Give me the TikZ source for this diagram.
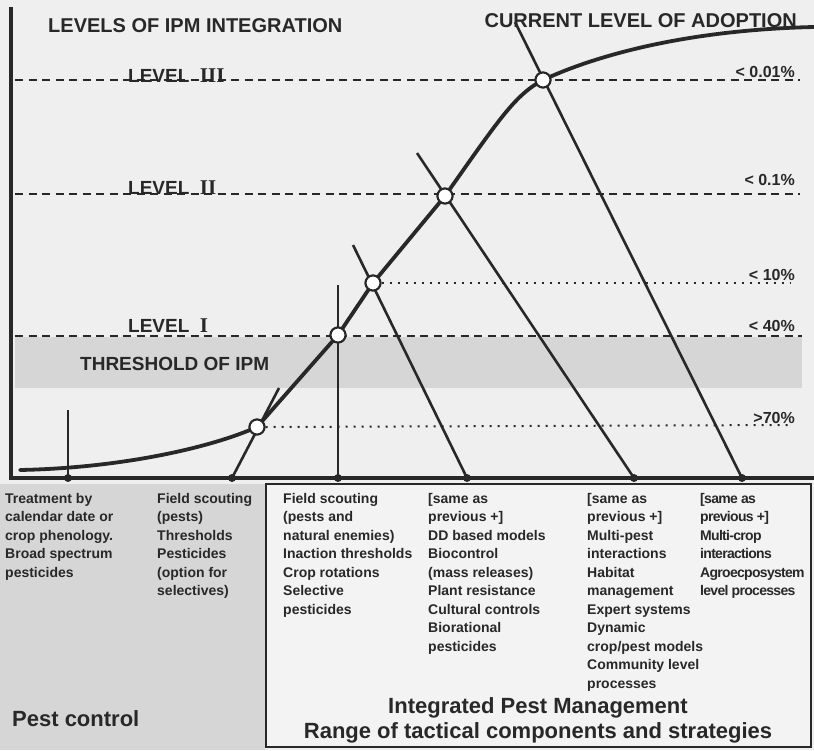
\documentclass[tikz,border=0pt]{standalone}
\usepackage{fontspec}
\setmainfont{Liberation Sans}
\newfontfamily\romannum{Liberation Serif}
\newfontfamily\tightsans[LetterSpace=-5]{Liberation Sans}
\usepackage{xcolor}
\definecolor{ipmbg}{HTML}{EFEFEF}
\definecolor{ipmink}{HTML}{282828}
\definecolor{ipmband}{HTML}{D6D6D6}
\definecolor{ipmbox}{HTML}{F3F3F3}
\usetikzlibrary{positioning,calc}

\begin{document}
\begin{tikzpicture}[x=1pt,y=-1pt,
  axisline/.style={line width=3.6pt,ipmink},
  levelline/.style={line width=2.2pt,ipmink,dash pattern=on 8pt off 5.5pt},
  adoptline/.style={line width=2pt,ipmink,dash pattern=on 2pt off 6pt},
  tactic/.style={line width=2.6pt,ipmink},
  joint/.style={circle,draw=ipmink,line width=2pt,fill=white,minimum size=15pt,inner sep=0pt},
  foot/.style={circle,fill=ipmink,minimum size=8pt,inner sep=0pt},
  headtxt/.style={font=\bfseries\fontsize{20}{24}\selectfont,text=ipmink,inner sep=0pt},
  lvltxt/.style={font=\bfseries\fontsize{19}{22}\selectfont,text=ipmink,inner sep=0pt,anchor=base west},
  pcttxt/.style={font=\bfseries\fontsize{16}{19}\selectfont,text=ipmink,inner sep=0pt,anchor=base east},
  coltxt/.style={font=\bfseries\fontsize{14}{18.5}\selectfont,text=ipmink,inner sep=0pt,anchor=north west,align=left},
  bigtxt/.style={font=\bfseries\fontsize{22}{25}\selectfont,text=ipmink,inner sep=0pt}]

\useasboundingbox (0,0) rectangle (814,750);
\fill[ipmbg] (0,0) rectangle (814,750);
\fill[ipmband] (0,484) rectangle (265,750);
\fill[ipmband] (15,337) rectangle (802,388);
\draw[line width=2.6pt,ipmink,fill=ipmbox] (266,484) rectangle (811,747);

\draw[axisline] (11,7) -- (11,478) -- (814,478);

\draw[levelline] (15,80) -- (800,80);
\draw[levelline] (15,194) -- (800,194);
\draw[levelline] (15,336) -- (802,336);

\node[headtxt,anchor=base west] (title) at (48,32) {LEVELS OF IPM INTEGRATION};
\node[headtxt,anchor=base east] (adopt) at (797,27) {CURRENT LEVEL OF ADOPTION};
\node[lvltxt] (lvl3) at (128,82) {LEVEL\ \ {\romannum\bfseries\fontsize{21}{24}\selectfont III}};
\node[lvltxt] (lvl2) at (128,194) {LEVEL\ \ {\romannum\bfseries\fontsize{21}{24}\selectfont II}};
\node[lvltxt] (lvl1) at (128,332) {LEVEL\ \ {\romannum\bfseries\fontsize{21}{24}\selectfont I}};
\node[lvltxt] (thresh) at (80,370) {THRESHOLD OF IPM};

\node[pcttxt] (p1) at (795,77) {< 0.01\%};
\node[pcttxt] (p2) at (795,185) {< 0.1\%};
\node[pcttxt] (p3) at (795,280) {< 10\%};
\node[pcttxt] (p4) at (795,331) {< 40\%};
\node[pcttxt] (p5) at (795,423) {>70\%};

\coordinate (t1) at (68,410);
\coordinate (t2) at (279,388);
\coordinate (t3) at (338,285);
\coordinate (t4) at (353,245);
\coordinate (t5) at (417,153);
\coordinate (t6) at (515,22);
\foreach \n/\x in {1/68,2/232,3/338,4/467,5/634,6/742}
  \node[foot] (b\n) at (\x,478) {};

\node[joint] (c1) at (257,427) {};
\node[joint] (c2) at (338,335) {};
\node[joint] (c3) at (373,283) {};
\node[joint] (c4) at (445,196) {};
\node[joint] (c5) at (543,80) {};

\draw[adoptline] (c3.east) -- (790,283);
\draw[adoptline] (c1.east) -- (790,425);

\draw[line width=3.8pt,ipmink,line cap=round,line join=round]
  (20,470) .. controls (120,468) and (210,448) .. (c1.center)
  -- (c2.center) -- (c3.center) -- (c4.center)
  .. controls (500,118) and (515,95) .. (c5.center)
  .. controls (590,58) and (680,30) .. (814,27);

\foreach \n in {1,...,6}
  \draw[tactic] (b\n.center) -- (t\n);

\foreach \n in {1,...,5}
  \node[joint] at (c\n) {};

\node[coltxt] (col1) at (5,493) {Treatment by\\calendar date or\\crop phenology.\\Broad spectrum\\pesticides};
\node[coltxt] (col2) at (157,493) {Field scouting\\(pests)\\Thresholds\\Pesticides\\(option for\\selectives)};
\node[coltxt] (col3) at (283,493) {Field scouting\\(pests and\\natural enemies)\\Inaction thresholds\\Crop rotations\\Selective\\pesticides};
\node[coltxt] (col4) at (428,493) {[same as\\previous +]\\DD based models\\Biocontrol\\(mass releases)\\Plant resistance\\Cultural controls\\Biorational\\pesticides};
\node[coltxt] (col5) at (587,493) {[same as\\previous +]\\Multi-pest\\interactions\\Habitat\\management\\Expert systems\\Dynamic\\crop/pest models\\Community level\\processes};
\node[coltxt,font=\tightsans\bfseries\fontsize{14}{18.5}\selectfont] (col6) at (700,493) {[same as\\previous +]\\Multi-crop\\interactions\\Agroecposystem\\level processes};

\node[bigtxt,anchor=base west] (pest) at (12,726) {Pest control};
\node[bigtxt,anchor=base] (ipm) at (538,713) {Integrated Pest Management};
\node[bigtxt,anchor=base] (range) at (538,738) {Range of tactical components and strategies};
\end{tikzpicture}
\end{document}
